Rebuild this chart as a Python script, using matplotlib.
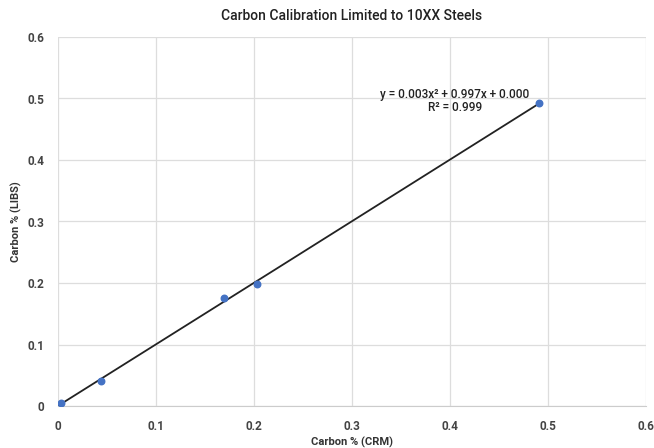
import numpy as np
import matplotlib
matplotlib.use("Agg")
import matplotlib.pyplot as plt

crm = [0.003, 0.044, 0.169, 0.203, 0.491]
libs = [0.005, 0.041, 0.175, 0.199, 0.492]
xticks = [0, 0.1, 0.2, 0.3, 0.4, 0.5, 0.6]
yticks = [0, 0.1, 0.2, 0.3, 0.4, 0.5, 0.6]
title = "Carbon Calibration Limited to 10XX Steels"
xlabel = "Carbon % (CRM)"
ylabel = "Carbon % (LIBS)"
eq_text = "y = 0.003x² + 0.997x + 0.000\nR² = 0.999"

plt.rcParams['font.family'] = ['Roboto', 'DejaVu Sans']

fig = plt.figure(figsize=(6.54, 4.48), dpi=100)
ax = fig.add_axes([58/654, 42/448, 588/654, 369/448])

coef = np.polyfit(crm, libs, 2)
xs = np.linspace(0, max(crm), 200)
ax.plot(xs, np.polyval(coef, xs), color='#222222', lw=1.3, zorder=2)
ax.scatter(crm, libs, s=22, color='#4472c4', zorder=3)

ax.set_xlim(0, 0.6)
ax.set_ylim(0, 0.6)
ax.set_xticks(xticks)
ax.set_yticks(yticks)
ax.set_xticklabels(['0', '0.1', '0.2', '0.3', '0.4', '0.5', '0.6'])
ax.set_yticklabels(['0', '0.1', '0.2', '0.3', '0.4', '0.5', '0.6'])
ax.grid(True, color='#dddddd', lw=0.9)
ax.set_axisbelow(True)
for s in ['top', 'right', 'left']:
    ax.spines[s].set_visible(False)
ax.spines['bottom'].set_color('#cccccc')
ax.tick_params(length=0, labelsize=8.5, labelcolor='#444444', pad=10)
for lab in ax.get_xticklabels() + ax.get_yticklabels():
    lab.set_fontweight('bold')
ax.set_xlabel(xlabel, fontsize=8, fontweight='bold', color='#333333', labelpad=3)
ax.set_ylabel(ylabel, fontsize=8, fontweight='bold', color='#333333', labelpad=4)
ax.set_title(title, fontsize=10, fontweight='medium', color='#222222', pad=12)
ax.text(0.405, 0.474, eq_text, fontsize=8.5, fontweight='medium', color='#222222',
        ha='center', va='bottom', linespacing=1.05)

fig.savefig('out.png', dpi=100)
